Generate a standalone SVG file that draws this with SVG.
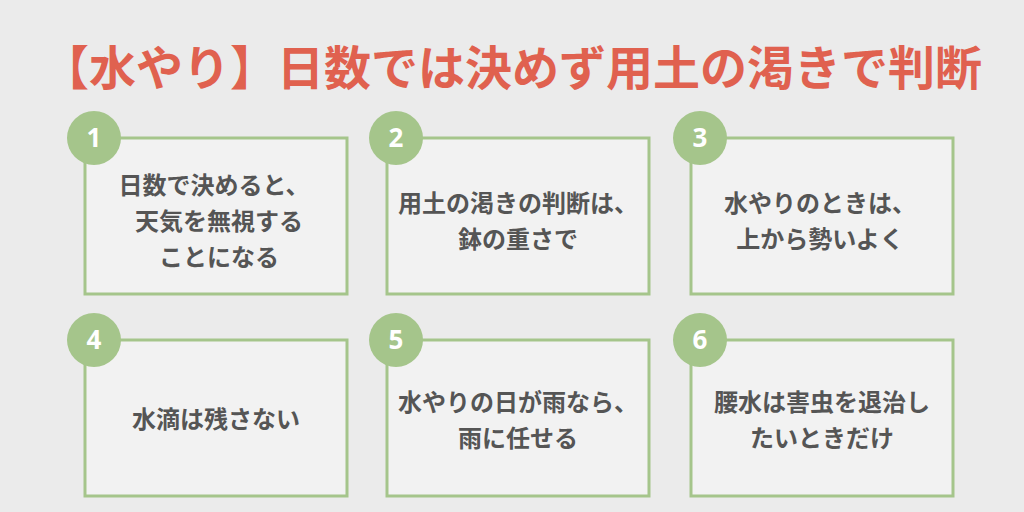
<svg xmlns="http://www.w3.org/2000/svg" width="1024" height="512" viewBox="0 0 1024 512">
<style>
.b{fill:#f2f2f2;stroke:#a5c58b;stroke-width:3}
.c{fill:#a5c58b}
.n{font-family:"Noto Sans","Liberation Sans",sans-serif;font-weight:bold;font-size:26px;fill:#fff;text-anchor:middle}
.t{font-family:"Noto Sans CJK JP",sans-serif;font-weight:bold;font-size:24px;fill:#555;text-anchor:middle}
</style>
<rect width="1024" height="512" fill="#ebebeb"/>
<text x="512" y="85" text-anchor="middle" font-family="Noto Sans CJK JP,sans-serif" font-weight="bold" font-size="47" fill="#e0614f">【水やり】日数では決めず用土の渇きで判断</text>
<g id="n1"><rect class="b" x="85" y="138" width="262" height="156"/><circle class="c" cx="94" cy="138" r="27"/><text class="n" x="94" y="147">1</text>
<text class="t" x="214" y="194">日数で決めると、</text><text class="t" x="219" y="230">天気を無視する</text><text class="t" x="219" y="266">ことになる</text></g>
<g id="n2"><rect class="b" x="387" y="138" width="262" height="156"/><circle class="c" cx="396" cy="138" r="27"/><text class="n" x="396" y="147">2</text>
<text class="t" x="518" y="212">用土の渇きの判断は、</text><text class="t" x="518" y="248">鉢の重さで</text></g>
<g id="n3"><rect class="b" x="691" y="138" width="262" height="156"/><circle class="c" cx="700" cy="138" r="27"/><text class="n" x="700" y="147">3</text>
<text class="t" x="820" y="212">水やりのときは、</text><text class="t" x="820" y="248">上から勢いよく</text></g>
<g id="n4"><rect class="b" x="85" y="340" width="262" height="156"/><circle class="c" cx="94" cy="340" r="27"/><text class="n" x="94" y="349">4</text>
<text class="t" x="216" y="428">水滴は残さない</text></g>
<g id="n5"><rect class="b" x="387" y="340" width="262" height="156"/><circle class="c" cx="396" cy="340" r="27"/><text class="n" x="396" y="349">5</text>
<text class="t" x="518" y="411">水やりの日が雨なら、</text><text class="t" x="518" y="447">雨に任せる</text></g>
<g id="n6"><rect class="b" x="691" y="340" width="262" height="156"/><circle class="c" cx="700" cy="340" r="27"/><text class="n" x="700" y="349">6</text>
<text class="t" x="822" y="411">腰水は害虫を退治し</text><text class="t" x="822" y="447">たいときだけ</text></g>
<g id="connectors"/>
</svg>
